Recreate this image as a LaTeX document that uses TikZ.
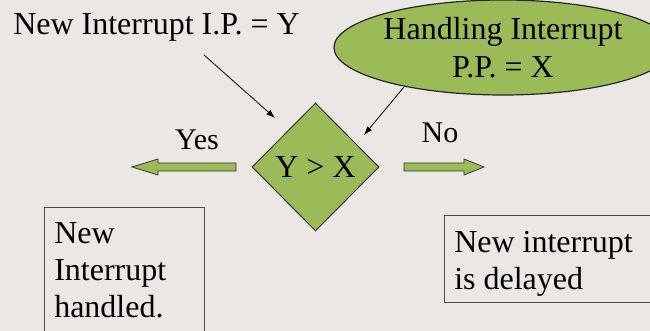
\documentclass[tikz,border=0pt]{standalone}
\usepackage{fontspec}
\setmainfont{Liberation Serif}
\usetikzlibrary{shapes.geometric,arrows.meta}
\definecolor{bg}{RGB}{235,231,228}
\definecolor{leaf}{HTML}{9BBB59}
\begin{document}
\begin{tikzpicture}[x=0.75pt,y=-0.75pt,
  txt/.style={font=\fontsize{24}{27.75}\selectfont, inner sep=0pt, align=left},
  lbl/.style={font=\fontsize{22.5}{27}\selectfont, inner sep=0pt},
  decision/.style={diamond, draw=black!80, line width=0.75pt, fill=leaf,
    minimum width=95.25pt, minimum height=96pt, inner sep=0pt,
    font=\fontsize{24}{27.75}\selectfont},
  oval/.style={ellipse, draw=black!85, line width=0.9pt, fill=leaf,
    minimum width=220.5pt, minimum height=71.25pt, inner sep=0pt, align=center,
    font=\fontsize{24}{28.5}\selectfont},
  outbox/.style={draw=black!70, line width=0.75pt, inner sep=0pt},
  link/.style={-{Latex[length=6.5pt,width=4.5pt]}, line width=0.6pt},
  blockarrow/.style={fill=leaf, draw=black!80, line width=0.6pt}
]
\fill[bg] (0,0) rectangle (650,331);
\useasboundingbox (0,0) rectangle (650,331);

% boxes
\node[outbox, anchor=north west, minimum width=120pt, minimum height=105pt] (yesbox) at (44,207) {};
\node[outbox, anchor=north west, minimum width=162pt, minimum height=65.25pt] (nobox) at (444,215) {};
\node[txt, anchor=north west] (yestext) at (54,221.8) {New\\Interrupt\\handled.};
\node[txt, anchor=north west] (notext) at (454,230.8) {New interrupt\\is delayed};

% top texts
\node[txt, anchor=base west] (newip) at (13,35) {New Interrupt I.P. = Y};
\node[oval] (handling) at (503,47.5) {Handling Interrupt\\P.P. = X};

% decision
\node[decision] (dec) at (315.5,167) {Y > X};

% labels
\node[lbl, anchor=base] (yes) at (197,150) {Yes};
\node[lbl, anchor=base] (no) at (440,143) {No};

% block arrows
\draw[blockarrow] (236,163) -- (158,163) -- (158,159) -- (132,167) -- (158,175) -- (158,171) -- (236,171) -- cycle;
\draw[blockarrow] (404,163) -- (464,163) -- (464,159) -- (484,167) -- (464,175) -- (464,171) -- (404,171) -- cycle;

% thin arrows
\coordinate (ipfoot) at (204,55);
\coordinate (ipend) at (275,118);
\coordinate (ppfoot) at (404,87);
\coordinate (ppend) at (364,135);
\draw[link] (ipfoot) -- (ipend);
\draw[link] (ppfoot) -- (ppend);
\end{tikzpicture}
\end{document}
